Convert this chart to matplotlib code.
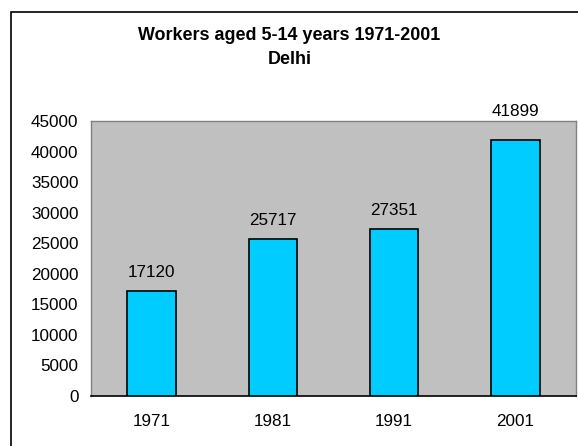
import matplotlib.pyplot as plt
from matplotlib.patches import Rectangle

plt.rcParams['font.family'] = ['Liberation Sans', 'DejaVu Sans']

# data
years = ['1971', '1981', '1991', '2001']
workers = [17120, 25717, 27351, 41899]
yticks = list(range(0, 45001, 5000))

# label offsets in points (last label sits a bit higher in the original)
label_pad = [8, 8, 8, 15]

fig = plt.figure(figsize=(5.78, 4.46), dpi=100)
ax = fig.add_axes([91 / 578, 50 / 446, 485 / 578, 275 / 446])
ax.set_facecolor('#C0C0C0')

x = range(len(years))
bars = ax.bar(x, workers, width=0.4, color='#00CCFF', edgecolor='black', linewidth=1.2, zorder=3)
for b, v, p in zip(bars, workers, label_pad):
    ax.annotate(str(v), (b.get_x() + b.get_width() / 2, v), xytext=(0, p),
                textcoords='offset points', ha='center', va='bottom', fontsize=12.3)

ax.set_xlim(-0.5, len(years) - 0.5)
ax.set_ylim(0, 45000)
ax.set_yticks(yticks)
ax.set_xticks(list(x))
ax.set_xticklabels(years)
ax.tick_params(axis='both', length=0, labelsize=12.3)
ax.tick_params(axis='y', pad=9)
ax.tick_params(axis='x', pad=13)

for side in ['left', 'top', 'right']:
    ax.spines[side].set_color('#808080')
    ax.spines[side].set_linewidth(1.0)
ax.spines['bottom'].set_color('black')
ax.spines['bottom'].set_linewidth(1.2)

fig.text(289 / 578, 1 - 36 / 446, 'Workers aged 5-14 years 1971-2001', ha='center', va='center',
         fontsize=12.9, fontweight='bold')
fig.text(290 / 578, 1 - 59 / 446, 'Delhi', ha='center', va='center', fontsize=12.9, fontweight='bold')

# outer chart border
fig.patches.append(Rectangle((11 / 578, -0.1), 1.2, 1 - 12 / 446 + 0.1, transform=fig.transFigure,
                             fill=False, edgecolor='black', linewidth=1.2))

fig.savefig('out.png', dpi=100)
